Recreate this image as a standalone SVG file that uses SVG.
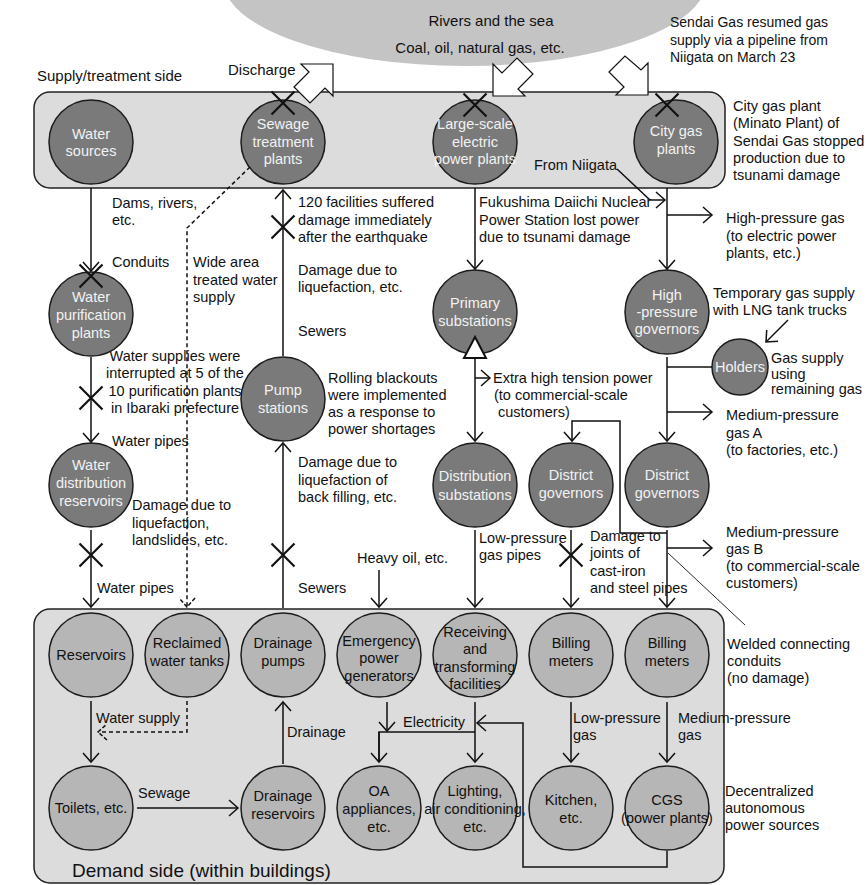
<svg xmlns="http://www.w3.org/2000/svg" width="868" height="885" viewBox="0 0 868 885">
<style>
text{font-family:"Liberation Sans",Arial,Helvetica,sans-serif;font-size:14.5px;fill:#111}
.big{font-size:15px}
.n{fill:#f2f2f2;text-anchor:middle}
.nb{fill:#111;text-anchor:middle}
.dk{fill:#7a7a7a;stroke:#1c1c1c;stroke-width:1.5}
.lt{fill:#b6b6b6;stroke:#1c1c1c;stroke-width:1.5}
.c{fill:none;stroke:#111;stroke-width:1.5}
.d{fill:none;stroke:#111;stroke-width:1.5;stroke-dasharray:4,3}
.blk{fill:#fff;stroke:#111;stroke-width:1.2}
.box{fill:#dcdcdc;stroke:#222;stroke-width:1.5}
</style>
<defs>
<marker id="ah" markerWidth="20" markerHeight="20" refX="10" refY="10" orient="auto" markerUnits="userSpaceOnUse" viewBox="0 0 20 20"><path d="M1,2 L10,10 L1,18" fill="none" stroke="#111" stroke-width="1.5"/></marker>
<marker id="ahd" markerWidth="20" markerHeight="20" refX="10" refY="10" orient="auto" markerUnits="userSpaceOnUse" viewBox="0 0 20 20"><path d="M1,2 L10,10 L1,18" fill="none" stroke="#111" stroke-width="1.5" stroke-dasharray="4,2"/></marker>
<path id="xm" d="M-11.5,-11.5L11.5,11.5M11.5,-11.5L-11.5,11.5" fill="none" stroke="#111" stroke-width="2.2"/>
</defs>

<!-- background shapes -->
<ellipse cx="465" cy="-20" rx="242" ry="86" fill="#c4c4c4"/>
<rect class="box" x="34" y="92" width="691" height="96" rx="16"/>
<rect class="box" x="34" y="609" width="690" height="274" rx="16"/>

<text x="491" y="26" class="big" text-anchor="middle">Rivers and the sea</text>
<text x="480" y="53" class="big" text-anchor="middle">Coal, oil, natural gas, etc.</text>
<text x="37" y="81" class="big">Supply/treatment side</text>
<text x="228" y="75" class="big">Discharge</text>
<text x="72" y="877" style="font-size:19px">Demand side (within buildings)</text>

<!-- block arrows -->
<polygon class="blk" points="301,64 333,64 333,96 325,88 310,103 294,87 309,72"/>
<polygon class="blk" points="493,64 493,96 525,96 518,89 533,74 517,58 502,73"/>
<polygon class="blk" points="648,63 648,95 616,95 624,87 609,72 625,56 641,70"/>

<!-- nodes: supply side -->
<g id="water-sources"><circle class="dk" cx="91" cy="142" r="42"/><text class="n" x="91" y="139">Water</text><text class="n" x="91" y="156">sources</text></g>
<g id="sewage-plants"><circle class="dk" cx="283" cy="142" r="42"/><text class="n" x="283" y="129">Sewage</text><text class="n" x="283" y="147">treatment</text><text class="n" x="283" y="164">plants</text></g>
<g id="power-plants"><circle class="dk" cx="475" cy="142" r="42"/><text class="n" x="475" y="129">Large-scale</text><text class="n" x="475" y="147">electric</text><text class="n" x="475" y="164">power plants</text></g>
<g id="city-gas-plants"><circle class="dk" cx="676" cy="142" r="42"/><text class="n" x="676" y="136">City gas</text><text class="n" x="676" y="154">plants</text></g>
<g id="water-purification"><circle class="dk" cx="91" cy="314" r="42"/><text class="n" x="91" y="302">Water</text><text class="n" x="91" y="320">purification</text><text class="n" x="91" y="338">plants</text></g>
<g id="primary-substations"><circle class="dk" cx="475" cy="312" r="42"/><text class="n" x="475" y="308">Primary</text><text class="n" x="475" y="326">substations</text></g>
<g id="hp-governors"><circle class="dk" cx="667" cy="312" r="42"/><text class="n" x="667" y="300">High</text><text class="n" x="667" y="317">-pressure</text><text class="n" x="667" y="334">governors</text></g>
<g id="holders"><circle class="dk" cx="740" cy="367" r="28"/><text class="n" x="740" y="372">Holders</text></g>
<g id="pump-stations"><circle class="dk" cx="283" cy="399" r="42"/><text class="n" x="283" y="395">Pump</text><text class="n" x="283" y="413">stations</text></g>
<g id="water-distribution"><circle class="dk" cx="91" cy="485" r="42"/><text class="n" x="91" y="470">Water</text><text class="n" x="91" y="488">distribution</text><text class="n" x="91" y="506">reservoirs</text></g>
<g id="distribution-substations"><circle class="dk" cx="475" cy="485" r="42"/><text class="n" x="475" y="481">Distribution</text><text class="n" x="475" y="500">substations</text></g>
<g id="district-governors-1"><circle class="dk" cx="571" cy="485" r="42"/><text class="n" x="571" y="480">District</text><text class="n" x="571" y="498">governors</text></g>
<g id="district-governors-2"><circle class="dk" cx="667" cy="485" r="42"/><text class="n" x="667" y="480">District</text><text class="n" x="667" y="498">governors</text></g>

<!-- nodes: demand side -->
<g id="reservoirs"><circle class="lt" cx="91" cy="655" r="42"/><text class="nb" x="91" y="660">Reservoirs</text></g>
<g id="reclaimed-tanks"><circle class="lt" cx="187" cy="655" r="42"/><text class="nb" x="187" y="648">Reclaimed</text><text class="nb" x="187" y="666">water tanks</text></g>
<g id="drainage-pumps"><circle class="lt" cx="283" cy="655" r="42"/><text class="nb" x="283" y="648">Drainage</text><text class="nb" x="283" y="666">pumps</text></g>
<g id="emergency-generators"><circle class="lt" cx="379" cy="655" r="42"/><text class="nb" x="379" y="646">Emergency</text><text class="nb" x="379" y="663">power</text><text class="nb" x="379" y="681">generators</text></g>
<g id="receiving-facilities"><circle class="lt" cx="475" cy="655" r="42"/><text class="nb" x="475" y="637">Receiving</text><text class="nb" x="475" y="654">and</text><text class="nb" x="475" y="672">transforming</text><text class="nb" x="475" y="689">facilities</text></g>
<g id="billing-meters-1"><circle class="lt" cx="571" cy="655" r="42"/><text class="nb" x="571" y="648">Billing</text><text class="nb" x="571" y="666">meters</text></g>
<g id="billing-meters-2"><circle class="lt" cx="667" cy="655" r="42"/><text class="nb" x="667" y="648">Billing</text><text class="nb" x="667" y="666">meters</text></g>
<g id="toilets"><circle class="lt" cx="91" cy="808" r="42"/><text class="nb" x="91" y="813">Toilets, etc.</text></g>
<g id="drainage-reservoirs"><circle class="lt" cx="283" cy="808" r="42"/><text class="nb" x="283" y="801">Drainage</text><text class="nb" x="283" y="819">reservoirs</text></g>
<g id="oa-appliances"><circle class="lt" cx="379" cy="808" r="42"/><text class="nb" x="379" y="796">OA</text><text class="nb" x="379" y="814">appliances,</text><text class="nb" x="379" y="832">etc.</text></g>
<g id="lighting"><circle class="lt" cx="475" cy="808" r="42"/><text class="nb" x="475" y="796">Lighting,</text><text class="nb" x="475" y="814">air conditioning,</text><text class="nb" x="475" y="832">etc.</text></g>
<g id="kitchen"><circle class="lt" cx="571" cy="808" r="42"/><text class="nb" x="571" y="805">Kitchen,</text><text class="nb" x="571" y="823">etc.</text></g>
<g id="cgs"><circle class="lt" cx="667" cy="808" r="42"/><text class="nb" x="667" y="805">CGS</text><text class="nb" x="667" y="823">(power plants)</text></g>

<!-- connectors -->
<g id="connectors">
<path class="c" d="M91,188V271" marker-end="url(#ah)"/>
<path class="c" d="M91,357V442" marker-end="url(#ah)"/>
<path class="c" d="M91,530V607" marker-end="url(#ah)"/>
<path class="d" d="M250,167L187,228V607" marker-end="url(#ahd)"/>
<path class="c" d="M283,356V190" marker-end="url(#ah)"/>
<path class="c" d="M283,608V443" marker-end="url(#ah)"/>
<path class="c" d="M379,570V607" marker-end="url(#ah)"/>
<path class="c" d="M475,188V269" marker-end="url(#ah)"/>
<path class="c" d="M475,358V441" marker-end="url(#ah)"/>
<path class="c" d="M475,378H490" marker-end="url(#ah)"/>
<polygon points="475,337 464,358 486,358" fill="#fff" stroke="#111" stroke-width="2"/>
<path class="c" d="M475,530V607" marker-end="url(#ah)"/>
<path class="c" d="M667,533H620V421H572V441" marker-end="url(#ah)"/>
<path class="c" d="M571,530V607" marker-end="url(#ah)"/>
<path class="c" d="M667,188V269" marker-end="url(#ah)"/>
<path class="c" d="M617,169L650,200H665" marker-end="url(#ah)"/>
<path class="c" d="M667,215H712" marker-end="url(#ah)"/>
<path class="c" d="M667,357V441" marker-end="url(#ah)"/>
<path class="c" d="M712,367H667"/>
<path class="c" d="M667,412H712" marker-end="url(#ah)"/>
<path class="c" d="M788,320L766,342" marker-end="url(#ah)"/>
<path class="c" d="M667,530V607" marker-end="url(#ah)"/>
<path class="c" d="M667,548H712" marker-end="url(#ah)"/>
<path d="M668,553L745,625" fill="none" stroke="#111" stroke-width="0.9"/>
<path class="c" d="M91,701V762" marker-end="url(#ah)"/>
<path class="d" d="M187,701V732H98" marker-end="url(#ahd)"/>
<path class="c" d="M137,808H238" marker-end="url(#ah)"/>
<path class="c" d="M283,764V702" marker-end="url(#ah)"/>
<path class="c" d="M387,702V731" marker-end="url(#ah)"/>
<path class="c" d="M379,762V732H475"/>
<path class="c" d="M379,732V762" marker-end="url(#ah)"/>
<path class="c" d="M475,702V762" marker-end="url(#ah)"/>
<path class="c" d="M667,851V867H523V723H477" marker-end="url(#ah)"/>
<path class="c" d="M571,702V762" marker-end="url(#ah)"/>
<path class="c" d="M667,702V762" marker-end="url(#ah)"/>
<use href="#xm" x="283" y="103"/>
<use href="#xm" x="475" y="105"/>
<use href="#xm" x="667" y="105"/>
<use href="#xm" x="91" y="276"/>
<use href="#xm" x="91" y="398"/>
<use href="#xm" x="91" y="555"/>
<use href="#xm" x="283" y="227"/>
<use href="#xm" x="283" y="555"/>
<use href="#xm" x="571" y="555"/>
</g>

<!-- annotations -->
<text x="670" y="27" style="font-size:14px">Sendai Gas resumed gas<tspan x="670" dy="17.5">supply via a pipeline from</tspan><tspan x="670" dy="17.5">Niigata on March 23</tspan></text>
<text x="733" y="111">City gas plant<tspan x="733" dy="17.3">(Minato Plant) of</tspan><tspan x="733" dy="17.3">Sendai Gas stopped</tspan><tspan x="733" dy="17.3">production due to</tspan><tspan x="733" dy="17.3">tsunami damage</tspan></text>
<text x="534" y="170">From Niigata</text>
<text x="112" y="208">Dams, rivers,<tspan x="112" dy="17">etc.</tspan></text>
<text x="112" y="267">Conduits</text>
<text x="193" y="267">Wide area<tspan x="193" dy="17.5">treated water</tspan><tspan x="193" dy="17.5">supply</tspan></text>
<text x="298" y="207">120 facilities suffered<tspan x="298" dy="17.5">damage immediately</tspan><tspan x="298" dy="17.5">after the earthquake</tspan></text>
<text x="298" y="275">Damage due to<tspan x="298" dy="17">liquefaction, etc.</tspan></text>
<text x="298" y="336">Sewers</text>
<text x="479" y="207">Fukushima Daiichi Nuclear<tspan x="479" dy="17.5">Power Station lost power</tspan><tspan x="479" dy="17.5">due to tsunami damage</tspan></text>
<text x="726" y="223">High-pressure gas<tspan x="726" dy="17.5">(to electric power</tspan><tspan x="726" dy="17.5">plants, etc.)</tspan></text>
<text x="175" y="361" text-anchor="middle">Water supplies were<tspan x="175" dy="17.3">interrupted at 5 of the</tspan><tspan x="175" dy="17.3">10 purification plants</tspan><tspan x="175" dy="17.3">in Ibaraki prefecture</tspan></text>
<text x="112" y="446">Water pipes</text>
<text x="328" y="383">Rolling blackouts<tspan x="328" dy="17">were implemented</tspan><tspan x="328" dy="17">as a response to</tspan><tspan x="328" dy="17">power shortages</tspan></text>
<text x="493" y="383">Extra high tension power<tspan x="494" dy="17">(to commercial-scale</tspan><tspan x="498" dy="17">customers)</tspan></text>
<text x="713" y="298">Temporary gas supply<tspan x="713" dy="17">with LNG tank trucks</tspan></text>
<text x="771" y="363">Gas supply<tspan x="771" dy="15.5">using</tspan><tspan x="771" dy="15.5">remaining gas</tspan></text>
<text x="726" y="420">Medium-pressure<tspan x="726" dy="17.5">gas A</tspan><tspan x="726" dy="17.5">(to factories, etc.)</tspan></text>
<text x="132" y="510">Damage due to<tspan x="132" dy="17.5">liquefaction,</tspan><tspan x="132" dy="17.5">landslides, etc.</tspan></text>
<text x="298" y="467">Damage due to<tspan x="298" dy="17.5">liquefaction of</tspan><tspan x="298" dy="17.5">back filling, etc.</tspan></text>
<text x="479" y="543">Low-pressure<tspan x="479" dy="17">gas pipes</tspan></text>
<text x="590" y="541">Damage to<tspan x="590" dy="17.3">joints of</tspan><tspan x="590" dy="17.3">cast-iron</tspan><tspan x="590" dy="17.3">and steel pipes</tspan></text>
<text x="726" y="537">Medium-pressure<tspan x="726" dy="17">gas B</tspan><tspan x="726" dy="17">(to commercial-scale</tspan><tspan x="726" dy="17">customers)</tspan></text>
<text x="357" y="563">Heavy oil, etc.</text>
<text x="97" y="593">Water pipes</text>
<text x="298" y="593">Sewers</text>
<text x="727" y="649">Welded connecting<tspan x="727" dy="17">conduits</tspan><tspan x="727" dy="17">(no damage)</tspan></text>
<text x="96" y="723">Water supply</text>
<text x="287" y="737">Drainage</text>
<text x="138" y="798">Sewage</text>
<text x="403" y="727">Electricity</text>
<text x="573" y="723">Low-pressure<tspan x="573" dy="17">gas</tspan></text>
<text x="678" y="723">Medium-pressure<tspan x="678" dy="17">gas</tspan></text>
<text x="725" y="796">Decentralized<tspan x="725" dy="17">autonomous</tspan><tspan x="725" dy="17">power sources</tspan></text>
</svg>
